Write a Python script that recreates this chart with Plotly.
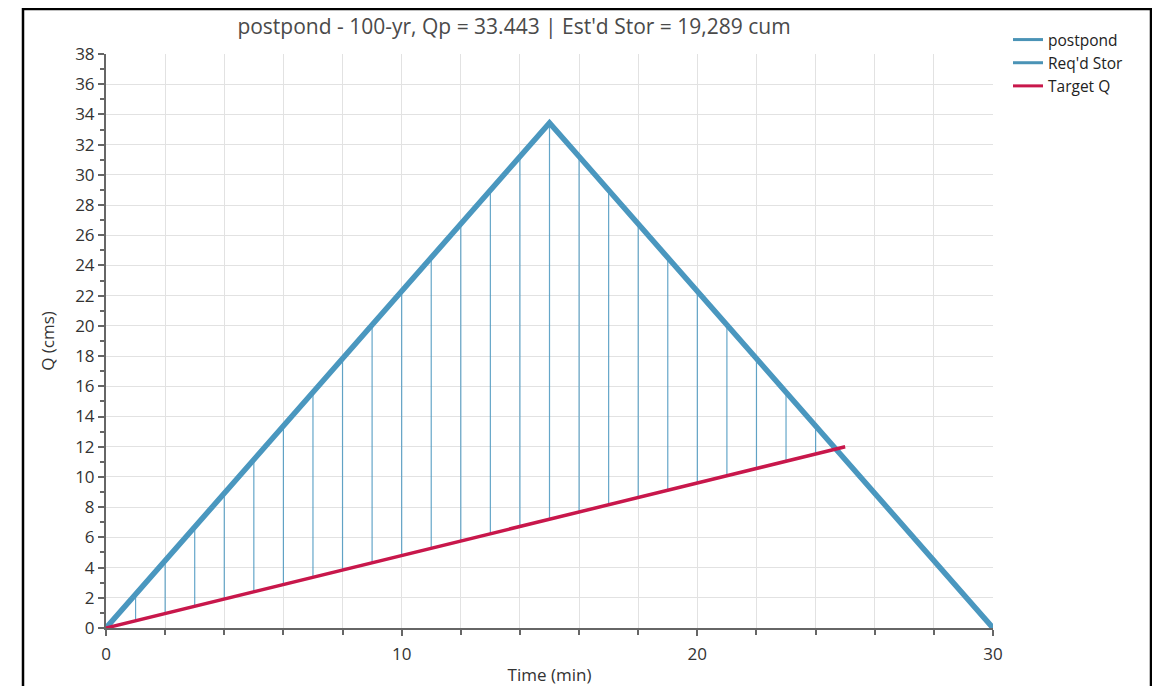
import plotly.graph_objects as go

# ---- data ----
time_min = list(range(0, 31))
postpond_q = [0.00, 2.23, 4.46, 6.69, 8.92, 11.15, 13.38, 15.61, 17.84, 20.07,
              22.30, 24.52, 26.75, 28.98, 31.21, 33.443, 31.21, 28.98, 26.75, 24.52,
              22.30, 20.07, 17.84, 15.61, 13.38, 11.15, 8.92, 6.69, 4.46, 2.23, 0.00]
target_time = list(range(0, 26))
target_q = [0.00, 0.48, 0.96, 1.44, 1.92, 2.40, 2.88, 3.36, 3.84, 4.32,
            4.80, 5.28, 5.76, 6.24, 6.72, 7.20, 7.68, 8.16, 8.64, 9.12,
            9.60, 10.08, 10.56, 11.04, 11.52, 12.00]
stor_time = list(range(1, 25))

series_names = ["postpond", "Req'd Stor", "Target Q"]
title_text = "postpond - 100-yr, Qp = 33.443 | Est'd Stor = 19,289 cum"

BLUE = "#4a97bf"
RED = "#c8174b"
LEG_COLORS = ["#4a93b6", "#4a93b6", "#c8174b"]

# storage drop lines
sx, sy = [], []
for t in stor_time:
    sx += [t, t, None]
    sy += [target_q[t], postpond_q[t], None]

fig = go.Figure()
fig.add_trace(go.Scatter(x=sx, y=sy, mode="lines", name=series_names[1], showlegend=False,
                         line=dict(color="rgba(74,151,191,0.85)", width=1.2)))
fig.add_trace(go.Scatter(x=time_min, y=postpond_q, mode="lines", name=series_names[0],
                         showlegend=False, line=dict(color=BLUE, width=5.5)))
fig.add_trace(go.Scatter(x=target_time, y=target_q, mode="lines", name=series_names[2],
                         showlegend=False, line=dict(color=RED, width=3.5)))
# legend entries (uniform line thickness as in the original legend)
for nm, c in zip(series_names, LEG_COLORS):
    fig.add_trace(go.Scatter(x=[None], y=[None], mode="lines", name=nm,
                             line=dict(color=c, width=3)))

font = "Open Sans, Noto Sans, sans-serif"

# page has an 8px body margin; figure sized/offset to compensate
W, H = 1144, 678
L, R, T, B = 98, 159, 46, 58
PW, PH = W - L - R, H - T - B  # 887 x 574

fig.update_layout(
    width=W, height=H,
    margin=dict(l=L, r=R, t=T, b=B, autoexpand=False),
    paper_bgcolor="white", plot_bgcolor="white",
    font=dict(family=font, color="#333333", size=16),
    title=dict(text=title_text, x=(506 - L) / PW, xref="paper", xanchor="center",
               y=1 - 19 / H, yanchor="middle",
               font=dict(size=21, color="#4a4a4a", family=font)),
    showlegend=True,
    legend=dict(x=(1000 - L) / PW, y=(620 - 15) / PH, xanchor="left", yanchor="top",
                font=dict(size=15.5, color="#222222"), bgcolor="rgba(0,0,0,0)",
                itemwidth=30),
    xaxis=dict(range=[0, 30], tickmode="linear", tick0=0, dtick=10,
               showgrid=True, gridcolor="#e2e2e2", gridwidth=1,
               showline=True, linecolor="#666666", linewidth=2,
               ticks="outside", ticklen=6, tickcolor="#666666", tickwidth=1.5,
               minor=dict(dtick=2, showgrid=True, gridcolor="#e2e2e2",
                          ticks="outside", ticklen=5, tickcolor="#666666", tickwidth=1.5),
               zeroline=False, ticklabelstandoff=4, automargin=False,
               title=dict(text="Time (min)", font=dict(size=17, color="#333333"), standoff=6),
               tickfont=dict(size=17, color="#333333")),
    yaxis=dict(range=[0, 38], tickmode="linear", tick0=0, dtick=2,
               showgrid=True, gridcolor="#e2e2e2", gridwidth=1,
               showline=True, linecolor="#666666", linewidth=2,
               ticks="outside", ticklen=6, tickcolor="#666666", tickwidth=1.5,
               minor=dict(dtick=1, showgrid=False,
                          ticks="outside", ticklen=4, tickcolor="#666666", tickwidth=1.5),
               zeroline=False, automargin=False,
               title=dict(text="Q (cms)", font=dict(size=17, color="#333333"), standoff=16),
               tickfont=dict(size=17, color="#333333")),
)

# outer frame around the chart image
fig.add_shape(type="rect", xref="paper", yref="paper",
              x0=(15 - L) / PW, x1=(1143 - L) / PW,
              y0=(T + PH - 720) / PH, y1=(T + PH - 1) / PH,
              line=dict(color="black", width=2.5), fillcolor="rgba(0,0,0,0)",
              layer="above")

fig.write_html("out.html")
